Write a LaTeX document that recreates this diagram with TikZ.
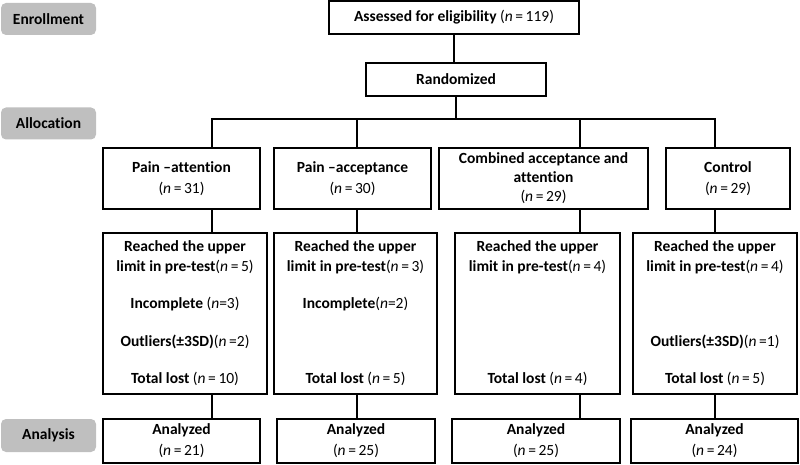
\documentclass[tikz,border=0pt]{standalone}
\usepackage{fontspec}
\setmainfont{Carlito}[Ligatures=NoCommon]
\newcommand\ncount[1]{{\mdseries(\textit{n}\,=\,#1)}}
\newcommand\ncountx[1]{{\mdseries(\textit{n}#1)}}
\tikzset{
  every node/.style={font=\fontsize{15.5}{19}\selectfont\bfseries, inner sep=0pt},
  box/.style={draw=black, line width=2pt, fill=white, align=center},
  phase/.style={fill=black!25, rounded corners=5pt, align=center},
  conn/.style={line width=2pt},
}
\begin{document}
\begin{tikzpicture}[x=1pt,y=-1pt]
\useasboundingbox (0,0) rectangle (800,465);
% phase labels
\node[phase, minimum width=95pt, minimum height=32pt] (enr) at (48.5,19) {Enrollment};
\node[phase, minimum width=95pt, minimum height=32pt] (alloc) at (48.5,123.5) {Allocation};
\node[phase, minimum width=95pt, minimum height=33pt] (anal) at (48.5,435.5) {Analysis};
% top boxes
\node[box, minimum width=250pt, minimum height=33pt] (assess) at (454,17.5) {Assessed for eligibility \ncount{119}};
\node[box, minimum width=180pt, minimum height=33pt] (rand) at (456,79.5) {Randomized};
% connector x positions
\coordinate (c1) at (212,119);
\coordinate (c2) at (357,119);
\coordinate (c3) at (580,119);
\coordinate (c4) at (715,119);
% group boxes
\node[box, minimum width=157pt, minimum height=61pt] (g1) at (181.5,178.5) {Pain –attention\\[2pt]\ncount{31}};
\node[box, minimum width=157pt, minimum height=61pt] (g2) at (352.5,178.5) {Pain –acceptance\\[2pt]\ncount{30}};
\node[box, minimum width=209pt, minimum height=61pt] (g3) at (543.5,178.5) {Combined acceptance and\\attention\\\ncount{29}};
\node[box, minimum width=124pt, minimum height=61pt] (g4) at (728,178.5) {Control\\[2pt]\ncount{29}};
% loss boxes
\node[box, minimum width=164pt, minimum height=161pt] (l1) at (185,313.5) {};
\node[box, minimum width=163pt, minimum height=161pt] (l2) at (355.5,313.5) {};
\node[box, minimum width=165pt, minimum height=161pt] (l3) at (537.5,313.5) {};
\node[box, minimum width=164pt, minimum height=161pt] (l4) at (715,313.5) {};
% loss texts
\node (l1a) at (l1.center |- 0,247) {Reached the upper};
\node (l1b) at (l1.center |- 0,267) {limit in pre-test\ncount{5}};
\node (l1c) at (l1.center |- 0,304) {Incomplete \ncountx{=3}};
\node (l1d) at (l1.center |- 0,342) {Outliers(±3SD)\ncountx{\,=2}};
\node (l1e) at (l1.center |- 0,379) {Total lost \ncount{10}};
\node (l2a) at (l2.center |- 0,247) {Reached the upper};
\node (l2b) at (l2.center |- 0,267) {limit in pre-test\ncount{3}};
\node (l2c) at (l2.center |- 0,304) {Incomplete\ncountx{=2}};
\node (l2e) at (l2.center |- 0,379) {Total lost \ncount{5}};
\node (l3a) at (l3.center |- 0,247) {Reached the upper};
\node (l3b) at (l3.center |- 0,267) {limit in pre-test\ncount{4}};
\node (l3e) at (l3.center |- 0,379) {Total lost \ncount{4}};
\node (l4a) at (l4.center |- 0,247) {Reached the upper};
\node (l4b) at (l4.center |- 0,267) {limit in pre-test\ncount{4}};
\node (l4d) at (l4.center |- 0,342) {Outliers(±3SD)\ncountx{\,=1}};
\node (l4e) at (l4.center |- 0,379) {Total lost \ncount{5}};
% analyzed boxes
\node[box, minimum width=157pt, minimum height=44pt] (a1) at (181.5,441) {Analyzed\\[2pt]\ncount{21}};
\node[box, minimum width=158pt, minimum height=44pt] (a2) at (356,441) {Analyzed\\[2pt]\ncount{25}};
\node[box, minimum width=168pt, minimum height=44pt] (a3) at (536,441) {Analyzed\\[2pt]\ncount{25}};
\node[box, minimum width=167pt, minimum height=44pt] (a4) at (714.5,441) {Analyzed\\[2pt]\ncount{24}};
% connectors
\draw[conn] (assess.south) -- (assess.south |- rand.north);
\draw[conn] (rand.south) -- (rand.south |- c1);
\draw[conn] ([xshift=-1pt]c1) -- ([xshift=1pt]c4);
\foreach \i/\c in {1/c1,2/c2,3/c3,4/c4}{
  \draw[conn] (\c) -- (\c |- g\i.north);
  \draw[conn] (\c |- g\i.south) -- (\c |- l\i.north);
  \draw[conn] (\c |- l\i.south) -- (\c |- a\i.north);
}
\end{tikzpicture}
\end{document}
